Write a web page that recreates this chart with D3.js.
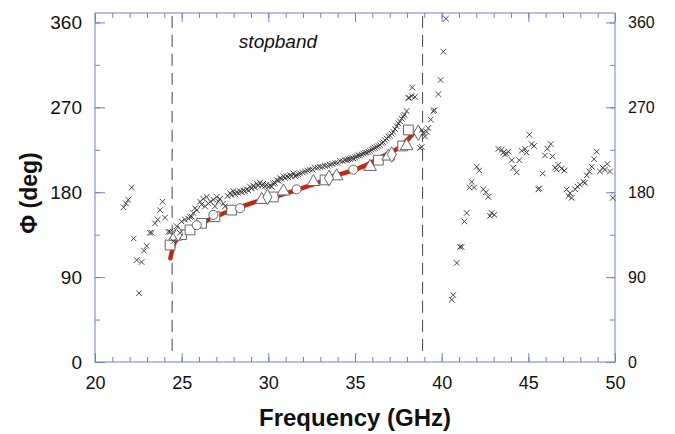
<!DOCTYPE html>
<html>
<head>
<meta charset="utf-8">
<script src="https://cdn.jsdelivr.net/npm/d3@7"></script>
<style>
  body { margin: 0; background: #fff; }
  text { font-family: Arial, "Liberation Sans", sans-serif; }
</style>
</head>
<body>
<div id="vis-container"></div>
<script>
// chart size and plot box
const width = 675;
const height = 434;
const margin = {left: 95, right: 60, top: 13, bottom: 72};

// measured phase (crosses): frequency in GHz, phase in deg
const crossFreq = [
  21.65, 21.79, 21.92, 22.12, 22.23, 22.4, 22.54, 22.69, 22.83, 22.98, 23.17, 23.27, 23.46, 23.62, 23.75, 23.9, 24.04, 24.23,
  24.33, 24.52, 24.71, 24.9, 25.0, 25.19, 25.38, 25.48, 25.58, 25.67, 25.77, 25.87, 26.06, 26.15, 26.25, 26.35, 26.44, 26.54,
  26.65, 26.83, 26.92, 27.02, 27.12, 27.21, 27.4, 27.5, 27.65, 27.79, 27.88, 27.98, 28.08, 28.17, 28.27, 28.37, 28.46, 28.56,
  28.65, 28.75, 28.85, 28.94, 29.04, 29.13, 29.23, 29.33, 29.42, 29.52, 29.62, 29.71, 29.8, 29.9, 30.0, 30.1, 30.2, 30.29,
  30.38, 30.48, 30.58, 30.67, 30.77, 30.87, 30.96, 31.06, 31.15, 31.25, 31.35, 31.44, 31.54, 31.63, 31.73, 31.83, 31.98,
  32.12, 32.26, 32.4, 32.55, 32.69, 32.84, 32.98, 33.12, 33.27, 33.42, 33.56, 33.7, 33.85, 34.0, 34.13, 34.28, 34.42, 34.52,
  34.62, 34.72, 34.81, 34.9, 35.0, 35.1, 35.19, 35.28, 35.38, 35.48, 35.58, 35.68, 35.77, 35.86, 35.96, 36.05, 36.15, 36.25,
  36.35, 36.44, 36.54, 36.63, 36.73, 36.82, 36.92, 37.02, 37.12, 37.21, 37.31, 37.4, 37.5, 37.6, 37.69, 37.78, 37.85, 37.98,
  38.08, 38.13, 38.27, 38.3, 38.46,
  38.75, 38.85, 38.85, 38.94, 39.04, 39.13, 39.23, 39.37, 39.52, 39.58, 39.81, 39.94, 40.1, 40.25,
  40.58, 40.67, 40.87, 41.06, 41.15, 41.31, 41.44, 41.6, 41.73, 41.87, 42.02, 42.17, 42.4, 42.56, 42.69, 42.79, 42.88, 43.04,
  43.27, 43.46, 43.56, 43.65, 43.75, 43.85, 44.04, 44.13, 44.33, 44.48, 44.62, 44.81, 44.9, 45.06, 45.19, 45.33, 45.58, 45.63,
  45.82, 45.96, 46.1, 46.29, 46.4, 46.54, 46.63, 46.73, 46.92, 47.08, 47.21, 47.31, 47.4, 47.5, 47.7, 47.83, 47.98, 48.17,
  48.27, 48.37, 48.52, 48.66, 48.79, 48.94, 49.13, 49.29, 49.42, 49.56, 49.71, 49.87
];
const crossPhase = [
  164, 168, 172, 185, 131, 108, 73, 106, 118, 123, 137, 137, 147, 151, 161, 170, 153, 138,
  138, 128, 144, 137, 149, 151, 152, 154, 154, 158, 163, 161, 170, 167, 173, 165, 175, 168,
  170, 172, 165, 175, 170, 173, 168, 165, 176, 179, 177, 181, 178, 180, 179, 181, 180, 182,
  181, 183, 182, 186, 184, 187, 185, 189, 187, 190, 187, 189, 186, 188, 186, 187, 186, 189,
  190, 193, 192, 195, 194, 197, 195, 197, 196, 198, 197, 200, 197, 198, 199, 200, 201,
  202, 203, 204, 204, 206, 206, 207, 207, 208, 208, 209, 210, 211, 211, 213, 213, 214, 214,
  215, 215, 216, 216, 217, 218, 219, 219, 220, 221, 222, 222, 223, 224, 225, 226, 227, 228,
  229, 230, 232, 233, 235, 237, 239, 240, 242, 244, 247, 250, 253, 255, 258, 260, 262, 266,
  280, 280, 282, 291, 281,
  227, 228, 246, 243, 239, 244, 248, 257, 266, 267, 284, 299, 329, 364,
  66, 71, 105, 122, 122, 149, 158, 185, 191, 185, 207, 203, 183, 180, 175, 155, 158, 156,
  226, 225, 222, 220, 221, 223, 214, 206, 201, 214, 224, 226, 222, 241, 231, 229, 183, 184,
  200, 219, 226, 231, 218, 206, 204, 209, 205, 203, 183, 176, 179, 174, 183, 186, 188, 191,
  190, 198, 202, 207, 215, 223, 202, 206, 204, 210, 202, 174
];

// calculated phase, open symbols
const squareFreq = [24.33, 25.0, 25.48, 26.15, 26.92, 27.88, 30.29, 33.27, 36.35, 37.75, 38.08];
const squarePhase = [124, 135, 140, 147, 154, 161, 175, 193, 214, 229, 246];
const triangleFreq = [24.62, 29.62, 30.87, 32.6, 33.94, 35.87, 36.92, 37.98];
const trianglePhase = [133, 172, 181, 191, 197, 207, 218, 229];
const circleFreq = [25.87, 26.83, 28.37, 31.63, 34.9];
const circlePhase = [145, 156, 163, 183, 204];
const diamondFreq = [24.8, 29.95, 33.5, 37.12, 38.65];
const diamondPhase = [136, 175, 195, 220, 243];

// red curve
const lineFreq = [24.35, 24.45, 24.6, 25.0, 25.5, 26.0, 26.6, 27.6, 28.5, 29.3, 30.4, 31.4, 32.2, 33.0, 33.75, 34.5, 35.3, 36.0, 36.8, 37.6, 38.1, 38.3];
const linePhase = [110, 118, 127, 135, 141, 146, 151, 159, 165, 170, 175, 181, 186, 191, 197, 201, 206, 212, 220, 228, 237, 241];

// stopband edges and ticks
const bandEdges = [24.45, 38.9];
const xTicks = [20, 25, 30, 35, 40, 45, 50];
const yTicks = [0, 90, 180, 270, 360];

const frameColor = "#6f81cc";

const svg = d3.select("#vis-container")
  .append("svg")
  .attr("width", width)
  .attr("height", height);

const x = d3.scaleLinear().domain([20, 50]).range([margin.left, width - margin.right]);
const y = d3.scaleLinear().domain([0, 370]).range([height - margin.bottom, margin.top]);

// minor ticks
const xMinor = d3.range(20, 51, 1);
const yMinor = d3.range(0, 361, 45);

function styleAxis(g) {
  g.select(".domain").remove();
  g.selectAll(".tick line").attr("stroke", frameColor);
}

// bottom
svg.append("g").attr("transform", `translate(0,${height - margin.bottom})`)
  .call(d3.axisBottom(x).tickValues(xMinor).tickSize(-5).tickFormat(""))
  .call(styleAxis);
svg.append("g").attr("transform", `translate(0,${height - margin.bottom})`)
  .call(d3.axisBottom(x).tickValues(xTicks).tickSizeInner(-9).tickSizeOuter(0).tickPadding(14).tickFormat(d3.format("d")))
  .call(styleAxis)
  .call(g => g.selectAll("text").attr("font-size", "18px").attr("fill", "#111"));
// top
svg.append("g").attr("transform", `translate(0,${margin.top})`)
  .call(d3.axisTop(x).tickValues(xMinor).tickSize(-5).tickFormat(""))
  .call(styleAxis);
svg.append("g").attr("transform", `translate(0,${margin.top})`)
  .call(d3.axisTop(x).tickValues(xTicks).tickSize(-9).tickFormat(""))
  .call(styleAxis);
// left
svg.append("g").attr("transform", `translate(${margin.left},0)`)
  .call(d3.axisLeft(y).tickValues(yMinor).tickSize(-5).tickFormat(""))
  .call(styleAxis);
svg.append("g").attr("transform", `translate(${margin.left},0)`)
  .call(d3.axisLeft(y).tickValues(yTicks).tickSizeInner(-10).tickSizeOuter(0).tickPadding(13).tickFormat(d3.format("d")))
  .call(styleAxis)
  .call(g => g.selectAll("text").attr("font-size", "19px").attr("fill", "#111"));
// right
svg.append("g").attr("transform", `translate(${width - margin.right},0)`)
  .call(d3.axisRight(y).tickValues(yMinor).tickSize(-5).tickFormat(""))
  .call(styleAxis);
svg.append("g").attr("transform", `translate(${width - margin.right},0)`)
  .call(d3.axisRight(y).tickValues(yTicks).tickSizeInner(-9).tickSizeOuter(0).tickPadding(13).tickFormat(d3.format("d")))
  .call(styleAxis)
  .call(g => g.selectAll("text").attr("font-size", "16px").attr("fill", "#111"));

// frame
svg.append("rect")
  .attr("x", margin.left).attr("y", margin.top)
  .attr("width", width - margin.left - margin.right)
  .attr("height", height - margin.top - margin.bottom)
  .attr("fill", "none")
  .attr("stroke", frameColor)
  .attr("stroke-width", 1);

// stopband edges
svg.selectAll(".edge")
  .data(bandEdges)
  .enter()
  .append("line")
  .attr("class", "edge")
  .attr("x1", d => x(d)).attr("x2", d => x(d))
  .attr("y1", y(367)).attr("y2", y(10))
  .attr("stroke", "#444")
  .attr("stroke-width", 1)
  .attr("stroke-dasharray", "12,7");

svg.append("text")
  .attr("x", x(28.3)).attr("y", 48)
  .attr("font-size", "19px")
  .attr("font-style", "italic")
  .attr("fill", "#111")
  .text("stopband");

// red line
const line = d3.line()
  .x(d => x(d[0]))
  .y(d => y(d[1]))
  .curve(d3.curveMonotoneX);

svg.append("path")
  .datum(lineFreq.map((f, i) => [f, linePhase[i]]))
  .attr("fill", "none")
  .attr("stroke", "#c8260e")
  .attr("stroke-width", 4.5)
  .attr("stroke-linecap", "round")
  .attr("d", line);

// open symbols
const symbolSets = [
  {freq: squareFreq, phase: squarePhase, type: d3.symbolSquare, size: 95},
  {freq: triangleFreq, phase: trianglePhase, type: d3.symbolTriangle, size: 70},
  {freq: circleFreq, phase: circlePhase, type: d3.symbolCircle, size: 65},
  {freq: diamondFreq, phase: diamondPhase, type: d3.symbolDiamond, size: 70}
];
symbolSets.forEach(s => {
  svg.append("g")
    .selectAll("path")
    .data(s.freq.map((f, i) => [f, s.phase[i]]))
    .enter()
    .append("path")
    .attr("transform", d => `translate(${x(d[0])},${y(d[1])})`)
    .attr("d", d3.symbol().type(s.type).size(s.size))
    .attr("fill", "#fff")
    .attr("stroke", "#666")
    .attr("stroke-width", 1);
});

// crosses
const cross = "M-2.8,-2.8L2.8,2.8M-2.8,2.8L2.8,-2.8";
svg.append("g")
  .selectAll("path")
  .data(crossFreq.map((f, i) => [f, crossPhase[i]]))
  .enter()
  .append("path")
  .attr("transform", d => `translate(${x(d[0])},${y(d[1])})`)
  .attr("d", cross)
  .attr("fill", "none")
  .attr("stroke", "#333")
  .attr("stroke-width", 0.9);

// axis titles
svg.append("text")
  .attr("x", (margin.left + width - margin.right) / 2)
  .attr("y", 426)
  .attr("text-anchor", "middle")
  .attr("font-size", "24px")
  .attr("font-weight", "bold")
  .attr("fill", "#111")
  .text("Frequency (GHz)");

svg.append("text")
  .attr("transform", "translate(37,193) rotate(-90)")
  .attr("text-anchor", "middle")
  .attr("font-size", "23px")
  .attr("font-weight", "bold")
  .attr("fill", "#111")
  .text("Φ (deg)");
</script>
</body>
</html>
